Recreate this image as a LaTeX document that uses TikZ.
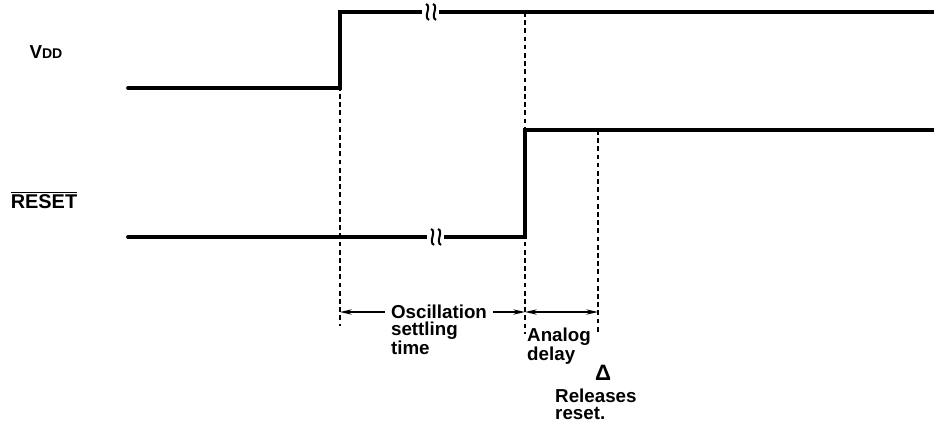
\documentclass[tikz,border=0pt]{standalone}
\usepackage{fontspec}
\setmainfont{Liberation Sans}
\usetikzlibrary{arrows.meta}
\tikzset{
  wave/.style={line width=3.2pt, line cap=round, line join=miter},
  guide/.style={line width=1.5pt, dash pattern=on 4pt off 3pt},
  dim/.style={line width=1.3pt, -{Stealth[length=10pt,width=4.5pt]}},
  lbl/.style={font=\fontsize{16}{14.5}\selectfont\bfseries, inner sep=0pt},
}
\newcommand{\breakmark}[2]{%
  \fill[white] (#1-7,#2-3) rectangle (#1+10,#2+3);
  \draw[line width=1.7pt] (#1-3,#2-8) .. controls (#1+3,#2-6) and (#1-6,#2+5) .. (#1,#2+8);
  \draw[line width=1.7pt] (#1+4,#2-8) .. controls (#1+10,#2-6) and (#1+1,#2+5) .. (#1+7,#2+8);
}
\begin{document}
\begin{tikzpicture}[x=0.03cm, y=-0.03cm]
        \useasboundingbox (0,0) rectangle (934,437);
        % Signal names
        \node[lbl] (vdd) at (46,52) {V{\fontsize{12}{12}\selectfont DD}};
        \node[lbl, font=\fontsize{17}{17}\selectfont\bfseries] (rst) at (44,200) {$\overline{\mbox{RESET}}$};
        % Waveforms
        \coordinate (v0) at (128,88);
        \coordinate (vr) at (340,88);
        \coordinate (vh) at (340,12);
        \coordinate (ve) at (934,12);
        \coordinate (r0) at (128,237);
        \coordinate (rr) at (525,237);
        \coordinate (rh) at (525,130);
        \coordinate (re) at (934,130);
        \draw[wave] (v0) -- (vr) -- (vh) -- (ve);
        \draw[wave] (r0) -- (rr) -- (rh) -- (re);
        \breakmark{429}{12}
        \breakmark{434}{237}
        % Timing guides
        \coordinate (t0) at (340,312);
        \coordinate (t1) at (525,312);
        \coordinate (t2) at (598,312);
        \draw[guide] (vh) -- (340,326);
        \draw[guide] (525,12) -- (525,334);
        \draw[guide] (598,130) -- (598,334);
        % Intervals
        \node[lbl, align=left, anchor=north west, inner xsep=5pt] (osc) at (385,305) {Oscillation\\settling\\time};
        \node[lbl, align=left, anchor=north west] (ana) at (527,328) {Analog\\delay};
        \node[lbl, font=\fontsize{19}{19}\selectfont\bfseries] (tri) at (603,373) {Δ};
        \node[lbl, align=left, anchor=north west] (rel) at (555,389) {Releases\\reset.};
        \draw[dim] (osc.west |- t0) -- (t0);
        \draw[dim] (osc.east |- t0) -- (t1);
        \draw[dim, {Stealth[length=10pt,width=4.5pt]}-{Stealth[length=10pt,width=4.5pt]}] (t1) -- (t2);
      \end{tikzpicture}
\end{document}
